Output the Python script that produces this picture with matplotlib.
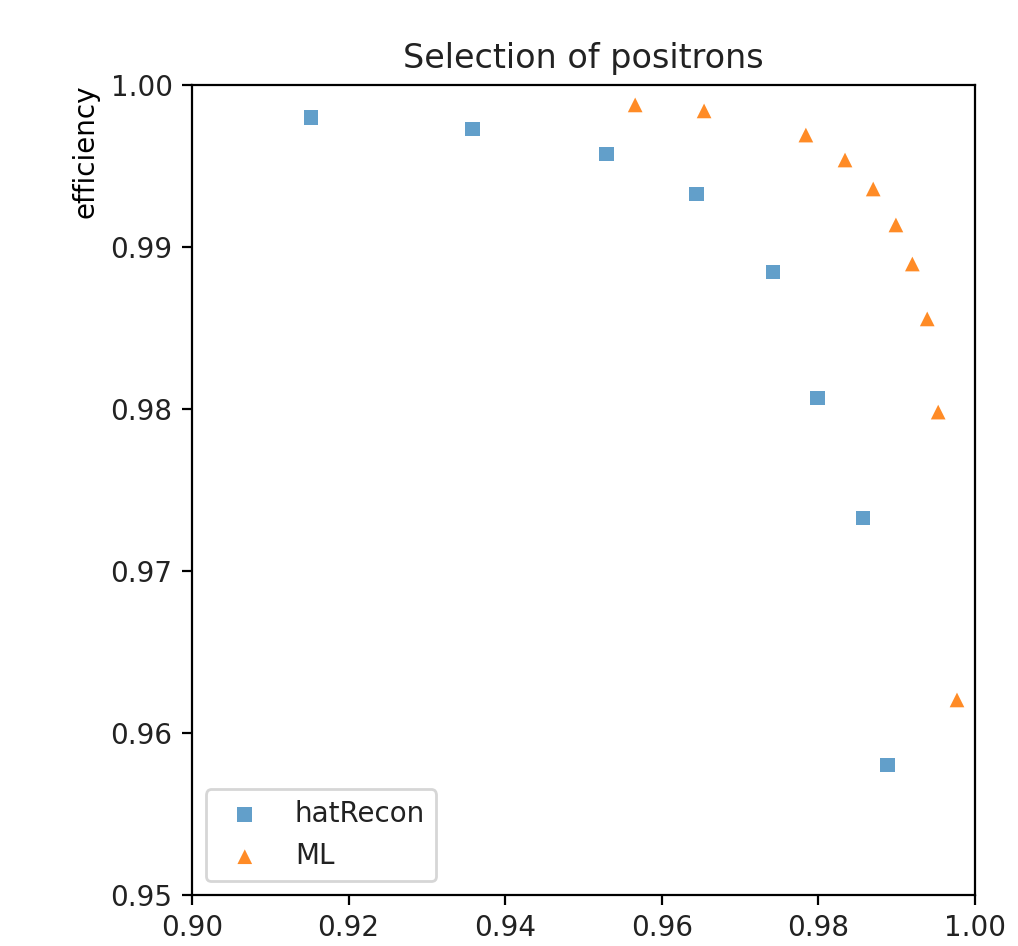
import matplotlib
matplotlib.use("Agg")
import matplotlib.pyplot as plt

hat_x = [0.9152, 0.9358, 0.9529, 0.9644, 0.9742, 0.9799, 0.9857, 0.9888]
hat_y = [0.9980, 0.99728, 0.99574, 0.99327, 0.98846, 0.98068, 0.97327, 0.95802]
ml_x = [0.9566, 0.9654, 0.9784, 0.9834, 0.9870, 0.9899, 0.9920, 0.9939, 0.9953, 0.9977]
ml_y = [0.99877, 0.99840, 0.99691, 0.99537, 0.99358, 0.99136, 0.98895, 0.98556, 0.97981, 0.96204]

DPI = 200
plt.rcParams['text.color'] = '#222222'
plt.rcParams['xtick.labelcolor'] = '#222222'
plt.rcParams['ytick.labelcolor'] = '#222222'

fig = plt.figure(figsize=(1018/DPI, 946/DPI), dpi=DPI)
ax = fig.add_axes([192/1018, 1-895/946, (975-192)/1018, (895-85)/946])
ax.scatter(hat_x, hat_y, marker='s', s=28, alpha=0.7, edgecolors='none', label='hatRecon')
ax.scatter(ml_x, ml_y, marker='^', s=28, alpha=0.9, edgecolors='none', label='ML')
ax.set_xlim(0.90, 1.00)
ax.set_ylim(0.95, 1.00)
ax.set_xticks([0.90, 0.92, 0.94, 0.96, 0.98, 1.00])
ax.set_yticks([0.95, 0.96, 0.97, 0.98, 0.99, 1.00])
ax.set_ylabel('efficiency', loc='top')
ax.set_title('Selection of positrons')
ax.legend(loc='lower left')
fig.savefig('out.png', dpi=DPI)
